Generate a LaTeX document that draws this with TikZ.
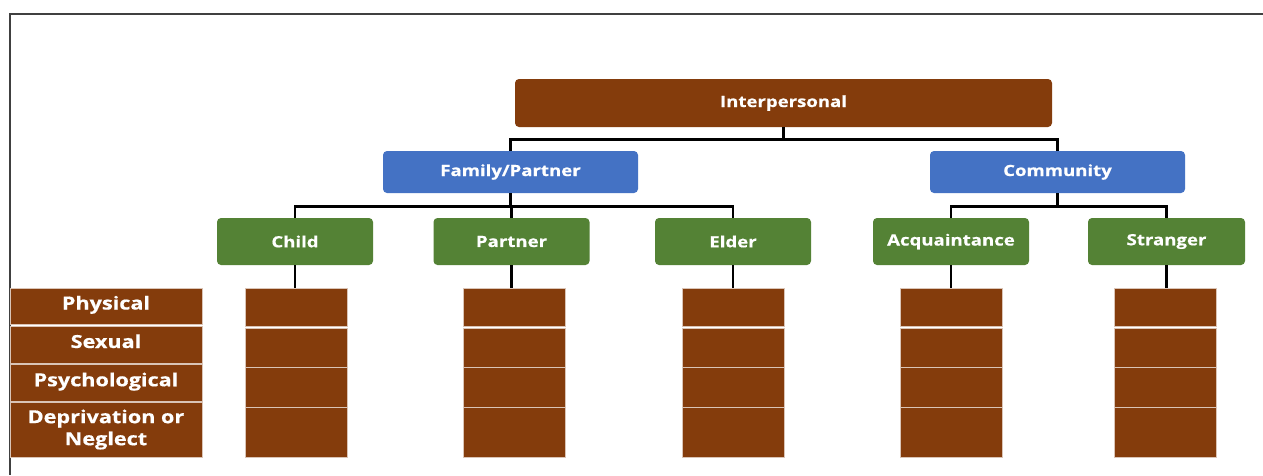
\documentclass[tikz,border=0pt]{standalone}
\usepackage{fontspec}
\setmainfont{Open Sans}[FakeStretch=1.2, BoldFeatures={FakeBold=0.5}]
\definecolor{brn}{HTML}{843C0C}
\definecolor{blu}{HTML}{4472C4}
\definecolor{grn}{HTML}{548235}
\definecolor{frm}{HTML}{404040}
\tikzset{
  treebox/.style={rounded corners=4pt, text=white, inner sep=0pt,
    font=\fontsize{15.5}{18}\selectfont\bfseries},
  topbox/.style={treebox, fill=brn, minimum width=537pt, minimum height=48pt},
  midbox/.style={treebox, fill=blu, minimum width=255pt, minimum height=42pt},
  leafbox/.style={treebox, fill=grn, minimum width=156pt, minimum height=47pt},
  cell/.style={fill=brn, draw=white!70!brn, line width=0.8pt, inner sep=0pt,
    minimum width=102pt, text=white, align=center,
    font=\fontsize{18}{22}\selectfont\bfseries},
  labcell/.style={cell, minimum width=192pt},
  onelab/.style={labcell, text height=12pt, text depth=5pt},
  link/.style={line width=2.8pt, black},
}
\begin{document}
\begin{tikzpicture}[x=1pt,y=-1pt]
\useasboundingbox (0,0) rectangle (1263,475);
\fill[white] (0,0) rectangle (1263,475);
\draw[frm, line width=1.5pt] (1263,14) -- (10,14) -- (10,475);

\node[topbox] (inter) at (783.5,103) {Interpersonal};
\node[midbox] (fam) at (510.5,172) {Family/Partner};
\node[midbox] (com) at (1057.5,172) {Community};
\node[leafbox] (child) at (295,241.5) {Child};
\node[leafbox] (partner) at (511.5,241.5) {Partner};
\node[leafbox] (elder) at (733,241.5) {Elder};
\node[leafbox] (acq) at (951,241.5) {Acquaintance};
\node[leafbox, minimum width=157pt] (stranger) at (1166.5,241.5) {Stranger};

\draw[link] (inter.south) -- ++(0,12) -| (fam.north);
\draw[link] (inter.south) -- ++(0,12) -| (com.north);
\draw[link] (fam.south) -- ++(0,13) -| (child.north);
\draw[link] (fam.south) -- ++(0,13) -| (partner.north);
\draw[link] (fam.south) -- ++(0,13) -| (elder.north);
\draw[link] (com.south) -- ++(0,13) -| (acq.north);
\draw[link] (com.south) -- ++(0,13) -| (stranger.north);

\foreach \n/\x in {child/296.5, partner/514.5, elder/733, acq/951, stranger/1165.5} {
  \node[cell, minimum height=38pt] (\n1) at (\x,307) {};
  \node[cell, minimum height=38.5pt] (\n2) at (\x,347.75) {};
  \node[cell, minimum height=39.5pt] (\n3) at (\x,387.25) {};
  \node[cell, minimum height=49.5pt] (\n4) at (\x,432.25) {};
  \draw[link] (\n.south) -- (\n.south |- \n1.north);
}

\node[onelab, minimum height=36pt] (phys) at (106,306) {Physical};
\node[onelab, minimum height=37pt] (sex) at (106,344.5) {Sexual};
\node[onelab, minimum height=37.5pt] (psy) at (106,382.75) {Psychological};
\node[labcell, minimum height=55pt] (dep) at (106,429.5) {Deprivation or\\Neglect};
\end{tikzpicture}
\end{document}
